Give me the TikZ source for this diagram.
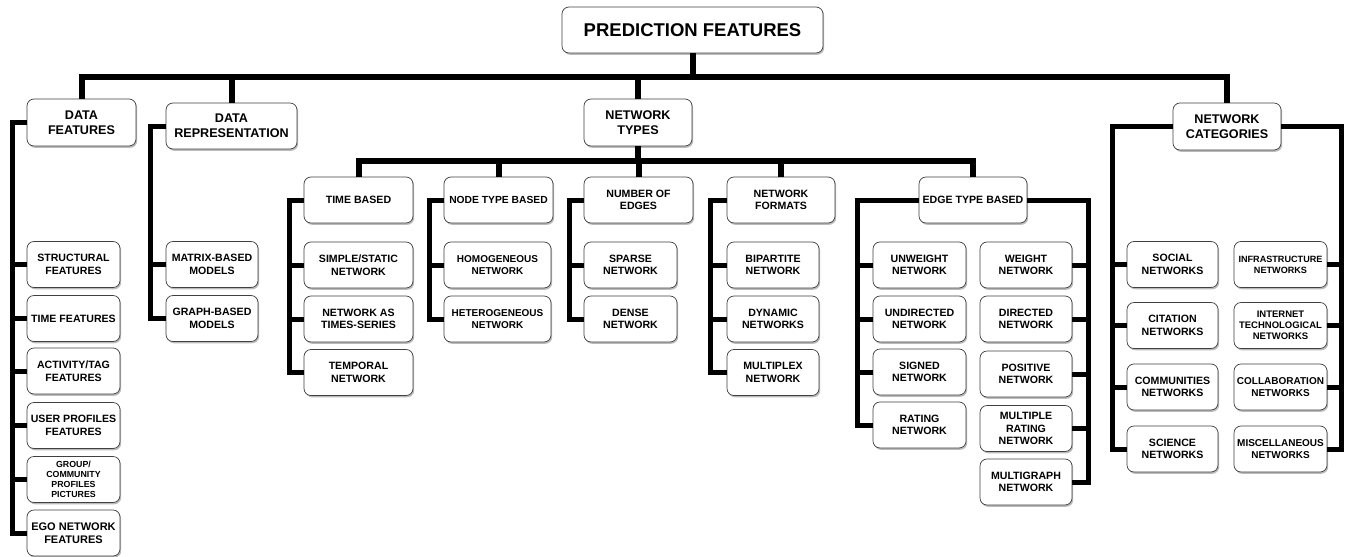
\documentclass[tikz,border=0pt]{standalone}
\usepackage{fontspec}
\setmainfont{Liberation Sans}
\usetikzlibrary{shadows}
\begin{document}
\begin{tikzpicture}[x=1pt,y=-1pt,
  box/.style={draw=black!75, line width=0.7pt, fill=white, rounded corners=7pt, align=center,
    inner sep=1pt, minimum height=46pt, font=\bfseries\fontsize{10.6}{12.6}\selectfont,
    drop shadow={shadow xshift=1.2pt, shadow yshift=-1.8pt, fill=black!45, opacity=0.6}},
  big/.style={font=\bfseries\fontsize{12.6}{15}\selectfont},
  small/.style={font=\bfseries\fontsize{10}{12}\selectfont},
  tiny/.style={font=\bfseries\fontsize{8.8}{10.2}\selectfont},
  conn/.style={line width=5pt, line join=miter, black},
  bus/.style={line width=6pt, line join=miter, black}]
\fill[white] (0,0) rectangle (1350,557);
\useasboundingbox (0,0) rectangle (1350,557);

% top
\node[box, minimum width=261pt, font=\bfseries\fontsize{18.5}{22}\selectfont] (pf) at (692.5,30) {PREDICTION FEATURES};
\node[box, big, minimum width=109pt, minimum height=47pt] (df) at (81.5,122.5) {DATA\\FEATURES};
\node[box, big, minimum width=131pt] (dr) at (231.5,126) {DATA\\REPRESENTATION};
\node[box, big, minimum width=108pt, minimum height=47pt] (nt) at (638,122.5) {NETWORK\\TYPES};
\node[box, big, minimum width=108pt, minimum height=47pt] (nc) at (1227,126.5) {NETWORK\\CATEGORIES};

% data features
\node[box, minimum width=93pt] (f1) at (73.5,264.5) {STRUCTURAL\\FEATURES};
\node[box, minimum width=93pt] (f2) at (73.5,318.5) {TIME FEATURES};
\node[box, minimum width=93pt] (f3) at (73.5,371) {ACTIVITY/TAG\\FEATURES};
\node[box, minimum width=93pt] (f4) at (73.5,425.5) {USER PROFILES\\FEATURES};
\node[box, tiny, minimum width=93pt] (f5) at (73.5,479.5) {GROUP/\\COMMUNITY\\PROFILES\\PICTURES};
\node[box, minimum width=93pt, font=\bfseries\fontsize{11}{13}\selectfont] (f6) at (73.5,533) {EGO NETWORK\\FEATURES};

% data representation
\node[box, minimum width=92pt] (m1) at (212,264.5) {MATRIX-BASED\\MODELS};
\node[box, minimum width=92pt] (m2) at (212,318.5) {GRAPH-BASED\\MODELS};

% network types level
\node[box, minimum width=109pt] (tb) at (358.5,200) {TIME BASED};
\node[box, minimum width=109pt] (t1) at (358.5,265) {SIMPLE/STATIC\\NETWORK};
\node[box, minimum width=109pt] (t2) at (358.5,319) {NETWORK AS\\TIMES-SERIES};
\node[box, minimum width=109pt] (t3) at (358.5,372.5) {TEMPORAL\\NETWORK};

\node[box, font=\bfseries\fontsize{10.3}{12}\selectfont, minimum width=109pt] (nb) at (498.5,200) {NODE TYPE BASED};
\node[box, small, minimum width=107pt] (h1) at (497.5,265) {HOMOGENEOUS\\NETWORK};
\node[box, small, minimum width=107pt] (h2) at (497.5,319) {HETEROGENEOUS\\NETWORK};

\node[box, minimum width=109pt] (ne) at (638.5,200) {NUMBER OF\\EDGES};
\node[box, minimum width=93pt] (s1) at (630.5,265) {SPARSE\\NETWORK};
\node[box, minimum width=93pt] (s2) at (630.5,319) {DENSE\\NETWORK};

\node[box, minimum width=108pt] (nf) at (781,200) {NETWORK\\FORMATS};
\node[box, minimum width=92pt] (b1) at (773,265) {BIPARTITE\\NETWORK};
\node[box, minimum width=92pt] (b2) at (773,319) {DYNAMIC\\NETWORKS};
\node[box, minimum width=92pt] (b3) at (773,372.5) {MULTIPLEX\\NETWORK};

\node[box, minimum width=108pt] (et) at (973,200) {EDGE TYPE BASED};
\node[box, minimum width=93pt] (l1) at (919.5,265) {UNWEIGHT\\NETWORK};
\node[box, minimum width=93pt] (l2) at (919.5,319) {UNDIRECTED\\NETWORK};
\node[box, minimum width=93pt] (l3) at (919.5,372) {SIGNED\\NETWORK};
\node[box, minimum width=93pt] (l4) at (919.5,425) {RATING\\NETWORK};
\node[box, minimum width=92pt] (r1) at (1026,265) {WEIGHT\\NETWORK};
\node[box, minimum width=92pt] (r2) at (1026,319) {DIRECTED\\NETWORK};
\node[box, minimum width=92pt] (r3) at (1026,374) {POSITIVE\\NETWORK};
\node[box, minimum width=92pt] (r4) at (1026,428.5) {MULTIPLE\\RATING\\NETWORK};
\node[box, minimum width=92pt] (r5) at (1026,482) {MULTIGRAPH\\NETWORK};

% network categories
\node[box, minimum width=91pt] (c1) at (1172.5,264.5) {SOCIAL\\NETWORKS};
\node[box, minimum width=91pt] (c2) at (1172.5,325.5) {CITATION\\NETWORKS};
\node[box, minimum width=91pt] (c3) at (1172.5,387) {COMMUNITIES\\NETWORKS};
\node[box, minimum width=91pt] (c4) at (1172.5,449) {SCIENCE\\NETWORKS};
\node[box, minimum width=93pt, font=\bfseries\fontsize{9.1}{11.2}\selectfont] (d1) at (1280.5,264.5) {INFRASTRUCTURE\\NETWORKS};
\node[box, minimum width=93pt, font=\bfseries\fontsize{9.5}{11.2}\selectfont] (d2) at (1280.5,325.5) {INTERNET\\TECHNOLOGICAL\\NETWORKS};
\node[box, minimum width=93pt, font=\bfseries\fontsize{10}{12.2}\selectfont] (d3) at (1280.5,387) {COLLABORATION\\NETWORKS};
\node[box, minimum width=93pt, font=\bfseries\fontsize{10}{12.2}\selectfont] (d4) at (1280.5,449) {MISCELLANEOUS\\NETWORKS};

% buses
\coordinate (bar) at (0,77);
\draw[bus] (df.north) -- (df.north |- bar) -- (nc.north |- bar) -- (nc.north);
\draw[bus] (pf.south) -- (pf.south |- bar);
\draw[bus] (dr.north) -- (dr.north |- bar);
\draw[bus] (nt.north) -- (nt.north |- bar);

\coordinate (sub) at (0,161);
\draw[bus] (tb.north) -- (tb.north |- sub) -- (et.north |- sub) -- (et.north);
\draw[bus] (nt.south) -- (nt.south |- sub);
\draw[bus] (nb.north) -- (nb.north |- sub);
\draw[bus] (ne.north) -- (ne.north |- sub);
\draw[bus] (nf.north) -- (nf.north |- sub);

% branches
\coordinate (xdf) at (12,0);
\draw[conn] (df.west) -- (df.west -| xdf) -- (xdf |- f6.west) -- (f6.west);
\foreach \n in {f1,f2,f3,f4,f5} \draw[conn] (xdf |- \n.west) -- (\n.west);

\coordinate (xdr) at (150,0);
\draw[conn] (dr.west) -- (dr.west -| xdr) -- (xdr |- m2.west) -- (m2.west);
\draw[conn] (xdr |- m1.west) -- (m1.west);

\coordinate (xtb) at (289,0);
\draw[conn] (tb.west) -- (tb.west -| xtb) -- (xtb |- t3.west) -- (t3.west);
\foreach \n in {t1,t2} \draw[conn] (xtb |- \n.west) -- (\n.west);

\coordinate (xnb) at (429,0);
\draw[conn] (nb.west) -- (nb.west -| xnb) -- (xnb |- h2.west) -- (h2.west);
\draw[conn] (xnb |- h1.west) -- (h1.west);

\coordinate (xne) at (569,0);
\draw[conn] (ne.west) -- (ne.west -| xne) -- (xne |- s2.west) -- (s2.west);
\draw[conn] (xne |- s1.west) -- (s1.west);

\coordinate (xnf) at (710,0);
\draw[conn] (nf.west) -- (nf.west -| xnf) -- (xnf |- b3.west) -- (b3.west);
\foreach \n in {b1,b2} \draw[conn] (xnf |- \n.west) -- (\n.west);

\coordinate (xel) at (857,0);
\draw[conn] (et.west) -- (et.west -| xel) -- (xel |- l4.west) -- (l4.west);
\foreach \n in {l1,l2,l3} \draw[conn] (xel |- \n.west) -- (\n.west);

\coordinate (xer) at (1088,0);
\draw[conn] (et.east) -- (et.east -| xer) -- (xer |- r5.east) -- (r5.east);
\foreach \n in {r1,r2,r3,r4} \draw[conn] (xer |- \n.east) -- (\n.east);

\coordinate (xcl) at (1112,0);
\draw[conn] (nc.west) -- (nc.west -| xcl) -- (xcl |- c4.west) -- (c4.west);
\foreach \n in {c1,c2,c3} \draw[conn] (xcl |- \n.west) -- (\n.west);

\coordinate (xcr) at (1341,0);
\draw[conn] (nc.east) -- (nc.east -| xcr) -- (xcr |- d4.east) -- (d4.east);
\foreach \n in {d1,d2,d3} \draw[conn] (xcr |- \n.east) -- (\n.east);
\end{tikzpicture}
\end{document}
